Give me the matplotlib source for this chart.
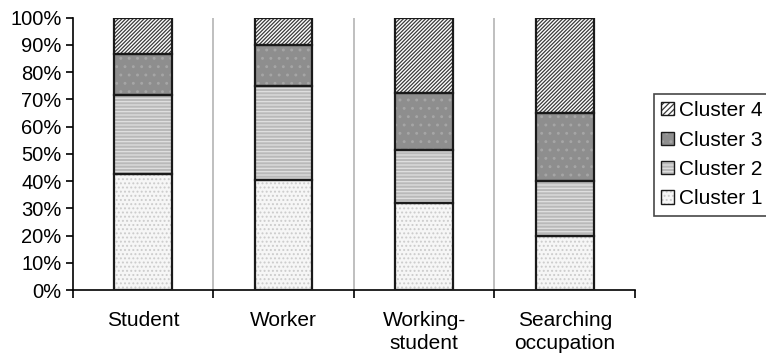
import matplotlib.pyplot as plt
import matplotlib.patches as mpatches
from matplotlib.legend_handler import HandlerTuple
import numpy as np

plt.rcParams['font.family'] = ['Liberation Sans', 'DejaVu Sans']
plt.rcParams['hatch.linewidth'] = 0.9

groups = ['Student', 'Worker', 'Working-\nstudent', 'Searching\noccupation']
clusters = ['Cluster 1', 'Cluster 2', 'Cluster 3', 'Cluster 4']

# share of each cluster (%) within a group
cluster1 = [42.5, 40.5, 32.0, 20.0]
cluster2 = [29.0, 34.5, 19.5, 20.0]
cluster3 = [15.0, 15.0, 21.0, 25.0]
cluster4 = [13.5, 10.0, 27.5, 35.0]

# fill colour, hatch pattern, hatch colour for each cluster
styles = [
    ('#f6f6f6', '....', '#cccccc'),
    ('#b9b9b9', '-----', '#e0e0e0'),
    ('#8e8e8e', '..', '#a6a6a6'),
    ('#ffffff', '/////////', '#3a3a3a'),
]

fig = plt.figure(figsize=(7.66, 3.6), dpi=100)
ax = fig.add_axes([0.095, 0.194, 0.734, 0.757])

x = np.arange(1, len(groups) + 1)
width = 0.41
bottom = np.zeros(len(groups))
handles = []
for vals, label, (fc, hatch, hc) in zip([cluster1, cluster2, cluster3, cluster4], clusters, styles):
    vals = np.array(vals)
    # hatch takes its colour from the edge, so draw the fill first, then the outline
    ax.bar(x, vals, width, bottom=bottom, color=fc, hatch=hatch, edgecolor=hc, linewidth=0, zorder=2)
    ax.bar(x, vals, width, bottom=bottom, fill=False, edgecolor='#1a1a1a', linewidth=1.6, zorder=3)
    bottom += vals
    swatch = mpatches.Patch(facecolor=fc, hatch=hatch[:6], edgecolor=hc, linewidth=0)
    outline = mpatches.Patch(fill=False, edgecolor='#1a1a1a', linewidth=1.0)
    handles.append((swatch, outline))

# grey separators between groups
for b in [1.5, 2.5, 3.5]:
    ax.axvline(b, color='#b4b4b4', linewidth=1.2, zorder=1)

ax.set_xlim(0.5, 4.5)
ax.set_ylim(0, 100)
ax.set_yticks(np.arange(0, 101, 10))
ax.set_yticklabels([f'{v}%' for v in range(0, 101, 10)], fontsize=14.5)
ax.set_xticks(x)
ax.set_xticklabels(groups, fontsize=15, linespacing=1.25)
ax.set_xticks(np.arange(0.5, 4.6, 1), minor=True)
ax.tick_params(axis='x', which='major', length=0, pad=15)
ax.tick_params(axis='x', which='minor', length=6, width=1.2, direction='out')
ax.tick_params(axis='y', length=5, width=1.2, pad=3)

for s in ['top', 'right']:
    ax.spines[s].set_visible(False)
for s in ['left', 'bottom']:
    ax.spines[s].set_linewidth(1.2)

# swatch and outline drawn on top of each other in one legend slot
leg = fig.legend(handles[::-1], clusters[::-1], loc='center left', bbox_to_anchor=(0.854, 0.57),
                 handler_map={tuple: HandlerTuple(ndivide=1, pad=0)},
                 fontsize=15, frameon=True, fancybox=False, edgecolor='#1a1a1a',
                 handlelength=0.6, handleheight=0.6, handletextpad=0.25, labelspacing=0.5,
                 borderpad=0.35, borderaxespad=0)
leg.get_frame().set_linewidth(1.2)

fig.savefig('out.png', dpi=100)
